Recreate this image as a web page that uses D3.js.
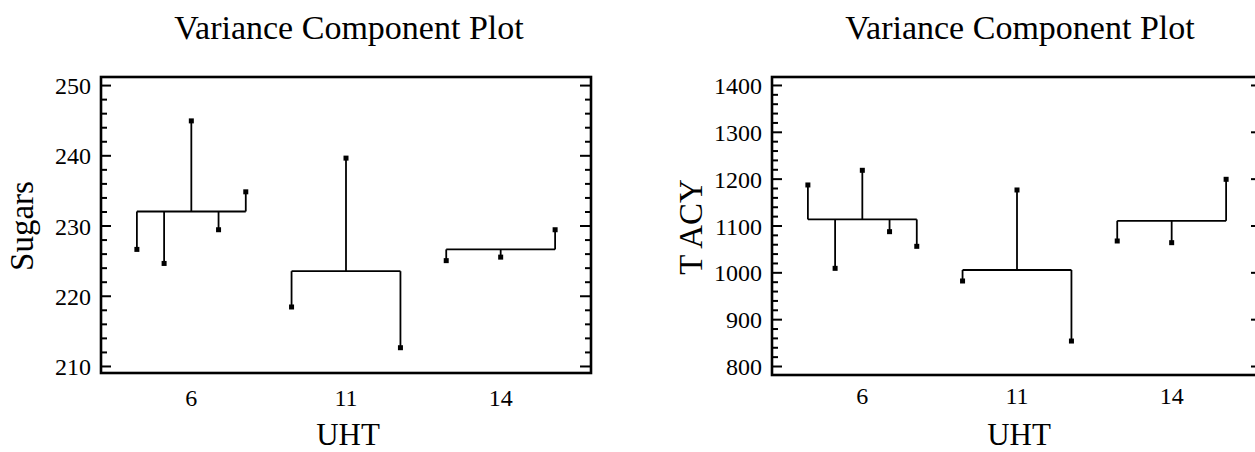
<!DOCTYPE html>
<html>
<head>
<meta charset="utf-8">
<script src="https://cdn.jsdelivr.net/npm/d3@7"></script>
<style>
  html, body { margin: 0; padding: 0; background: #fff; }
  svg { display: block; }
  text { font-family: "Liberation Serif", "Times New Roman", serif; fill: #000; }
</style>
</head>
<body>
<svg id="chart" width="1255" height="452"></svg>
<script>
// ---- data ----
const groups = ["6", "11", "14"];

const sugars6  = [226.6, 224.6, 244.9, 229.4, 234.8];
const sugars11 = [218.4, 239.6, 212.6];
const sugars14 = [225.0, 225.5, 229.4];
const sugarsMeans = [232.0, 223.5, 226.6];
const sugarsTicks = [210, 220, 230, 240, 250];

const tacy6  = [1186.5, 1008.5, 1217.8, 1086.8, 1055.5];
const tacy11 = [981.5, 1175.8, 853.3];
const tacy14 = [1066.9, 1063.3, 1198.6];
const tacyMeans = [1113, 1005, 1110];
const tacyTicks = [800, 900, 1000, 1100, 1200, 1300, 1400];

const titleText = "Variance Component Plot";
const xTitle = "UHT";

// ---- drawing ----
const svg = d3.select("#chart");
svg.append("rect").attr("width", 1255).attr("height", 452).attr("fill", "#fff");

function panel(opt) {
  const g = svg.append("g");
  const {left, right, top, bottom} = opt;
  const x = d3.scalePoint().domain(groups).range([left, right]).padding(0.584);
  const step = x.step();
  const y = d3.scaleLinear().domain(opt.yDomain).range([bottom, top]);

  // minor ticks
  const lo = Math.ceil(opt.yDomain[0] / opt.minorStep), hi = Math.floor(opt.yDomain[1] / opt.minorStep);
  const minor = d3.range(lo, hi + 1).map(k => k * opt.minorStep).filter(v => !opt.ticks.includes(v));

  const axL = g.append("g").attr("transform", `translate(${left},0)`)
    .call(d3.axisLeft(y).tickValues(opt.ticks).tickFormat(d3.format("d"))
      .tickSizeInner(-10).tickSizeOuter(0).tickPadding(10));
  axL.select(".domain").remove();
  axL.attr("font-family", null);
  axL.selectAll("line").attr("stroke", "#000").attr("stroke-width", 2);
  axL.selectAll("text").attr("font-size", 24).attr("dy", "0.36em");

  const axLm = g.append("g").attr("transform", `translate(${left},0)`)
    .call(d3.axisLeft(y).tickValues(minor).tickSizeInner(-6).tickSizeOuter(0).tickFormat(""));
  axLm.select(".domain").remove();
  axLm.selectAll("line").attr("stroke", "#000").attr("stroke-width", 2);

  const axR = g.append("g").attr("transform", `translate(${right},0)`)
    .call(d3.axisRight(y).tickValues(opt.ticks).tickSizeInner(-11).tickSizeOuter(0).tickFormat(""));
  axR.select(".domain").remove();
  axR.selectAll("line").attr("stroke", "#000").attr("stroke-width", 2);

  const axRm = g.append("g").attr("transform", `translate(${right},0)`)
    .call(d3.axisRight(y).tickValues(minor).tickSizeInner(-6).tickSizeOuter(0).tickFormat(""));
  axRm.select(".domain").remove();
  axRm.selectAll("line").attr("stroke", "#000").attr("stroke-width", 2);

  // frame
  g.append("rect").attr("x", left).attr("y", top).attr("width", right - left).attr("height", bottom - top)
    .attr("fill", "none").attr("stroke", "#000").attr("stroke-width", 2.6);

  // x tick labels
  g.selectAll(".xl").data(groups).enter().append("text")
    .attr("x", d => x(d)).attr("y", opt.xLabelY).attr("text-anchor", "middle")
    .attr("font-size", 24).text(d => d);

  // data
  const spread = 0.352 * step;
  opt.series.forEach((vals, gi) => {
    const cx = x(groups[gi]);
    const n = vals.length;
    const px = vals.map((v, i) => cx + (i - (n - 1) / 2) * (spread / ((n - 1) / 2)));
    const m = y(opt.means[gi]);
    g.append("line").attr("x1", px[0]).attr("x2", px[n - 1]).attr("y1", m).attr("y2", m)
      .attr("stroke", "#000").attr("stroke-width", 1.8);
    vals.forEach((v, i) => {
      g.append("line").attr("x1", px[i]).attr("x2", px[i]).attr("y1", m).attr("y2", y(v))
        .attr("stroke", "#000").attr("stroke-width", 1.8);
      g.append("rect").attr("x", px[i] - 2.5).attr("y", y(v) - 2.5).attr("width", 5).attr("height", 5)
        .attr("fill", "#000");
    });
  });

  // titles
  g.append("text").attr("x", (left + right) / 2 + 3).attr("y", 39).attr("text-anchor", "middle")
    .attr("font-size", 34).text(titleText);
  g.append("text").attr("x", (left + right) / 2 + 2).attr("y", 445).attr("text-anchor", "middle")
    .attr("font-size", 31).text(xTitle);
  g.append("text").attr("transform", `translate(${opt.yLabelX},${(top + bottom) / 2 + 1}) rotate(-90)`)
    .attr("text-anchor", "middle").attr("font-size", 33).text(opt.yTitle);
}

panel({
  left: 101, right: 591, top: 77, bottom: 373,
  yDomain: [209.0, 251.15], ticks: sugarsTicks, minorStep: 2,
  series: [sugars6, sugars11, sugars14], means: sugarsMeans,
  xLabelY: 406, yLabelX: 33, yTitle: "Sugars"
});

panel({
  left: 772, right: 1262, top: 77, bottom: 375,
  yDomain: [780.8, 1417], ticks: tacyTicks, minorStep: 20,
  series: [tacy6, tacy11, tacy14], means: tacyMeans,
  xLabelY: 404, yLabelX: 702, yTitle: "T ACY"
});
</script>
</body>
</html>
